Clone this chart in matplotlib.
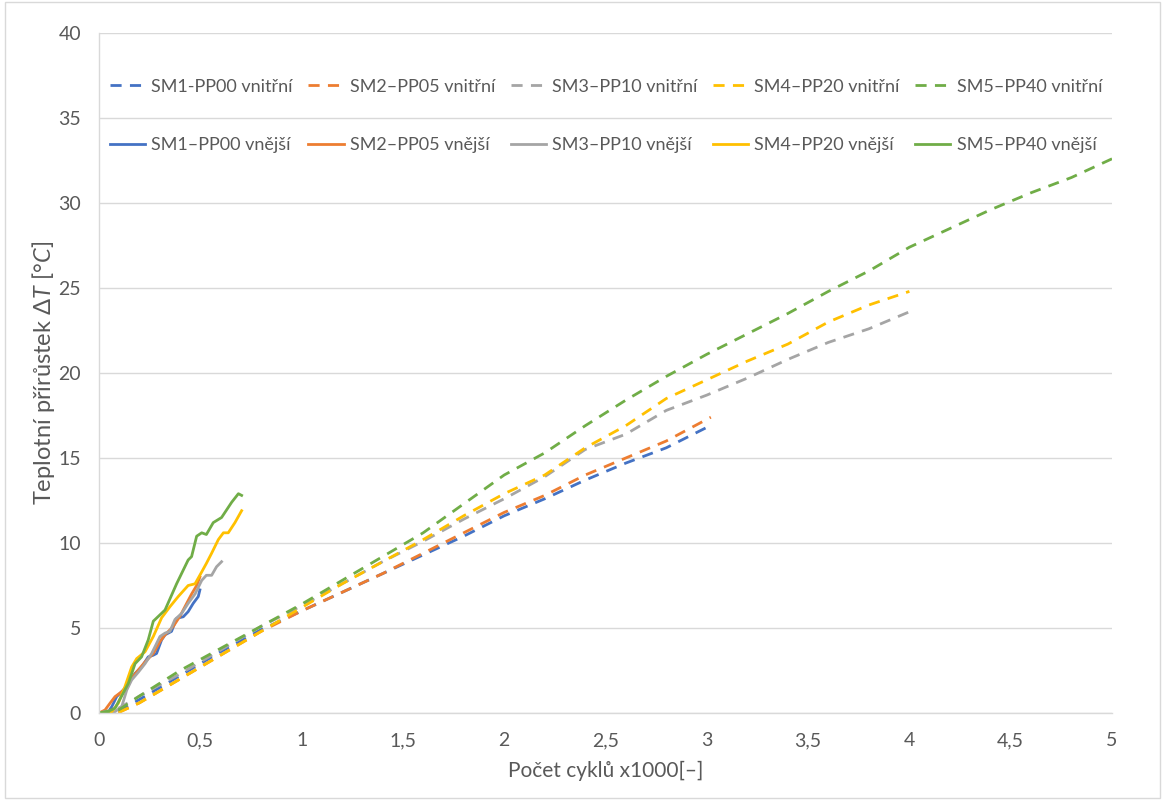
"""
Teplotní přírůstek vs. počet cyklů
"""

import matplotlib
matplotlib.use("Agg")
import matplotlib.pyplot as plt
from matplotlib.patches import Rectangle
from matplotlib.ticker import FuncFormatter

plt.rcParams['font.family'] = ['Lato', 'DejaVu Sans']
plt.rcParams['mathtext.fontset'] = 'custom'
plt.rcParams['mathtext.rm'] = 'Lato'
plt.rcParams['mathtext.it'] = 'Lato:italic'

# --- data ---
colors = ["#4472C4", "#ED7D31", "#A5A5A5", "#FFC000", "#70AD47"]

inner_labels = ["SM1-PP00 vnitřní", "SM2–PP05 vnitřní", "SM3–PP10 vnitřní",
                "SM4–PP20 vnitřní", "SM5–PP40 vnitřní"]
outer_labels = ["SM1–PP00 vnější", "SM2–PP05 vnější", "SM3–PP10 vnější",
                "SM4–PP20 vnější", "SM5–PP40 vnější"]

# vnitřní (dashed)
x_sm1_in = [0, 0.1, 0.2, 0.4, 0.6, 0.8, 1.0, 1.2, 1.4, 1.6, 1.8, 2.0, 2.2, 2.4, 2.6, 2.8, 3.0]
y_sm1_in = [0, 0.1, 0.8, 2.2, 3.6, 4.9, 6.0, 7.1, 8.2, 9.3, 10.4, 11.6, 12.6, 13.7, 14.7, 15.6, 16.8]

x_sm2_in = [0, 0.1, 0.2, 0.4, 0.6, 0.8, 1.0, 1.2, 1.4, 1.6, 1.8, 2.0, 2.2, 2.4, 2.6, 2.8, 3.02]
y_sm2_in = [0, 0.05, 0.6, 2.0, 3.4, 4.8, 6.0, 7.1, 8.2, 9.4, 10.6, 11.8, 12.8, 14.0, 15.0, 16.0, 17.4]

x_sm3_in = [0, 0.1, 0.2, 0.4, 0.6, 0.8, 1.0, 1.2, 1.4, 1.6, 1.8, 2.0, 2.2, 2.4, 2.6, 2.8, 3.0,
            3.2, 3.4, 3.6, 3.8, 4.0]
y_sm3_in = [0, 0.3, 1.0, 2.3, 3.7, 5.1, 6.3, 7.6, 8.9, 10.1, 11.4, 12.6, 13.9, 15.5, 16.4, 17.8, 18.7,
            19.7, 20.8, 21.8, 22.6, 23.6]

x_sm4_in = [0, 0.1, 0.2, 0.4, 0.6, 0.8, 1.0, 1.2, 1.4, 1.6, 1.8, 2.0, 2.2, 2.4, 2.6, 2.8, 3.0,
            3.2, 3.4, 3.6, 3.8, 4.0]
y_sm4_in = [0, 0.05, 0.6, 2.0, 3.4, 4.8, 6.2, 7.6, 8.9, 10.2, 11.6, 12.9, 14.0, 15.6, 16.9, 18.5, 19.6,
            20.7, 21.7, 23.0, 24.0, 24.8]

x_sm5_in = [0, 0.1, 0.2, 0.4, 0.6, 0.8, 1.0, 1.2, 1.4, 1.6, 1.8, 2.0, 2.2, 2.4, 2.6, 2.8, 3.0,
            3.2, 3.4, 3.6, 3.8, 4.0, 4.2, 4.4, 4.6, 4.8, 5.0]
y_sm5_in = [0, 0.2, 1.0, 2.5, 3.8, 5.1, 6.4, 7.8, 9.2, 10.6, 12.3, 14.0, 15.3, 16.9, 18.4, 19.8, 21.1,
            22.3, 23.5, 24.8, 26.0, 27.4, 28.5, 29.6, 30.6, 31.5, 32.6]

# vnější (solid)
x_sm1_out = [0, 0.046, 0.063, 0.087, 0.12, 0.145, 0.178, 0.21, 0.243, 0.268, 0.284, 0.309,
             0.326, 0.358, 0.383, 0.416, 0.44, 0.465, 0.49, 0.498]
y_sm1_out = [0, 0.08, 0.37, 0.96, 1.35, 1.75, 2.33, 2.7, 3.3, 3.4, 3.5, 4.3,
             4.6, 4.8, 5.57, 5.66, 5.96, 6.45, 6.85, 7.24]

x_sm2_out = [0, 0.03, 0.054, 0.079, 0.112, 0.137, 0.161, 0.194, 0.227, 0.268, 0.301, 0.326,
             0.367, 0.40, 0.424, 0.457, 0.482, 0.498]
y_sm2_out = [0, 0.18, 0.57, 0.96, 1.25, 1.55, 2.04, 2.53, 3.0, 3.5, 4.2, 4.6,
             5.1, 5.7, 6.25, 7.0, 7.5, 8.0]

x_sm3_out = [0, 0.079, 0.112, 0.137, 0.161, 0.194, 0.227, 0.26, 0.301, 0.326, 0.35, 0.375,
             0.408, 0.44, 0.474, 0.507, 0.53, 0.556, 0.58, 0.605]
y_sm3_out = [0, 0.08, 0.37, 1.35, 1.94, 2.4, 2.9, 3.5, 4.5, 4.7, 4.8, 5.5,
             5.86, 6.45, 7.0, 7.8, 8.1, 8.1, 8.6, 8.9]

x_sm4_out = [0, 0.063, 0.095, 0.128, 0.161, 0.186, 0.227, 0.268, 0.309, 0.35, 0.391, 0.44,
             0.474, 0.507, 0.53, 0.556, 0.589, 0.614, 0.638, 0.671, 0.704]
y_sm4_out = [0, 0.08, 0.57, 1.55, 2.7, 3.2, 3.6, 4.5, 5.6, 6.25, 6.85, 7.5,
             7.6, 8.3, 8.8, 9.4, 10.2, 10.6, 10.6, 11.2, 11.9]

x_sm5_out = [0, 0.046, 0.079, 0.11, 0.145, 0.178, 0.21, 0.243, 0.268, 0.326, 0.383, 0.44,
             0.457, 0.482, 0.507, 0.53, 0.564, 0.605, 0.655, 0.688, 0.704]
y_sm5_out = [0, 0.1, 0.28, 0.96, 1.75, 2.9, 3.3, 4.3, 5.4, 6.06, 7.6, 9.0,
             9.2, 10.4, 10.6, 10.5, 11.2, 11.5, 12.4, 12.9, 12.8]

inner_x = [x_sm1_in, x_sm2_in, x_sm3_in, x_sm4_in, x_sm5_in]
inner_y = [y_sm1_in, y_sm2_in, y_sm3_in, y_sm4_in, y_sm5_in]
outer_x = [x_sm1_out, x_sm2_out, x_sm3_out, x_sm4_out, x_sm5_out]
outer_y = [y_sm1_out, y_sm2_out, y_sm3_out, y_sm4_out, y_sm5_out]

x_ticks = [0, 0.5, 1, 1.5, 2, 2.5, 3, 3.5, 4, 4.5, 5]
y_ticks = [0, 5, 10, 15, 20, 25, 30, 35, 40]

text_color = "#595959"
grid_color = "#D9D9D9"

fig = plt.figure(figsize=(11.65, 8), dpi=100)
ax = fig.add_axes([99 / 1165, 1 - 713 / 800, (1112 - 99) / 1165, (713 - 33) / 800])

# chart area border
fig.patches.append(Rectangle((0.004, 0.003), 0.992, 0.994, transform=fig.transFigure,
                             fill=False, edgecolor=grid_color, linewidth=1))

handles = []
for i in range(5):
    h_in, = ax.plot(inner_x[i], inner_y[i], color=colors[i], linewidth=2,
                    dashes=(4, 3), label=inner_labels[i])
    h_out, = ax.plot(outer_x[i], outer_y[i], color=colors[i], linewidth=2,
                     label=outer_labels[i])
    handles += [h_in, h_out]

ax.set_xlim(0, 5)
ax.set_ylim(0, 40)
ax.set_xticks(x_ticks)
ax.set_yticks(y_ticks)
fmt = FuncFormatter(lambda v, p: f"{v:g}".replace(".", ","))
ax.xaxis.set_major_formatter(fmt)
ax.yaxis.set_major_formatter(fmt)
ax.tick_params(length=0, labelsize=14, labelcolor=text_color)
ax.tick_params(axis='x', pad=14)
ax.tick_params(axis='y', pad=13)

ax.grid(axis='y', color=grid_color, linewidth=1)
ax.set_axisbelow(True)
for s in ["top", "right"]:
    ax.spines[s].set_visible(False)
for s in ["left", "bottom"]:
    ax.spines[s].set_color(grid_color)
    ax.spines[s].set_linewidth(1)

ax.set_xlabel("Počet cyklů x1000[–]", fontsize=15, color=text_color, labelpad=8)
ax.set_ylabel("Teplotní přírůstek $\\Delta T$ [°$C$]", fontsize=17, color=text_color, labelpad=1)

leg = ax.legend(handles=handles, ncol=5, loc='center', bbox_to_anchor=(0.5005, 0.878),
                frameon=False, fontsize=13, handlelength=1.95, handletextpad=0.35,
                columnspacing=0.85, labelspacing=2.35)
for t in leg.get_texts():
    t.set_color(text_color)

fig.savefig("out.png", dpi=100)
